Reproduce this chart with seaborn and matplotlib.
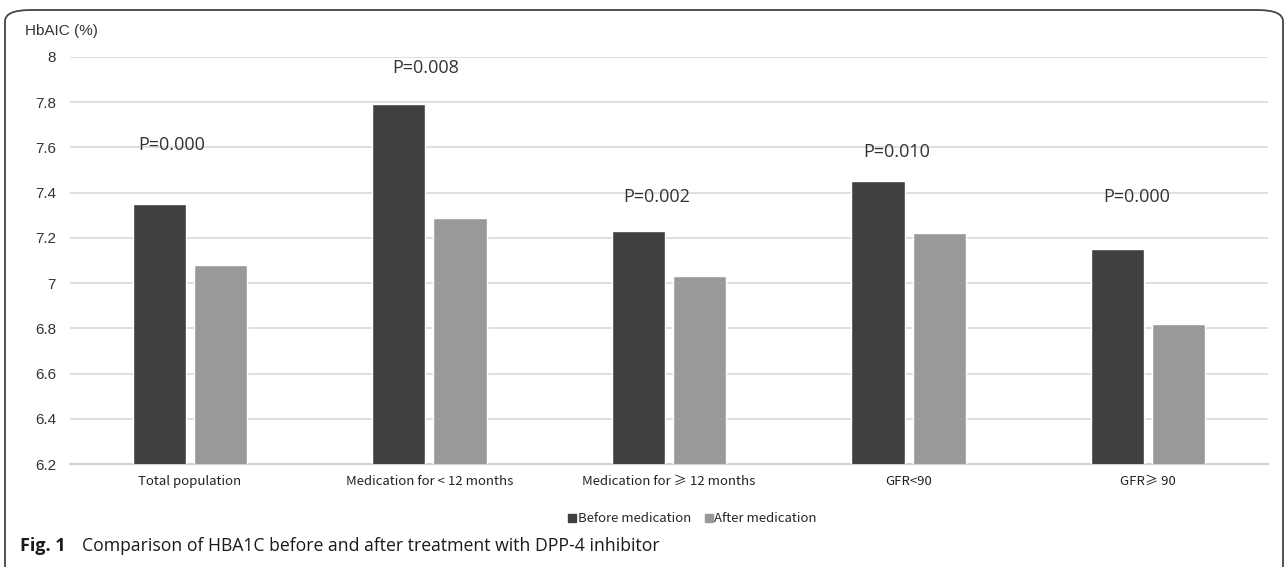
import seaborn as sns
import matplotlib.pyplot as plt
import pandas as pd
from matplotlib.patches import FancyBboxPatch
from matplotlib.lines import Line2D

# data
groups = ["Total population", "Medication for < 12 months", "Medication for ≥ 12 months",
          "GFR<90", "GFR≥ 90"]
before = [7.35, 7.79, 7.23, 7.45, 7.15]
after = [7.08, 7.29, 7.03, 7.22, 6.82]
p_values = ["P=0.000", "P=0.008", "P=0.002", "P=0.010", "P=0.000"]
p_label_y = [7.61, 7.95, 7.38, 7.58, 7.38]
p_label_dx = [-0.075, -0.017, -0.05, -0.05, -0.05]

df = pd.DataFrame({"group": groups * 2,
                   "value": before + after,
                   "period": ["Before medication"] * 5 + ["After medication"] * 5})

sns.set_style("white")
plt.rcParams["font.family"] = ["Noto Sans CJK SC", "DejaVu Sans"]

fig = plt.figure(figsize=(12.87, 5.67), dpi=100)
ax = fig.add_axes([70 / 1287, 1 - 464 / 567, (1268 - 70) / 1287, (464 - 57) / 567])

colors = {"Before medication": "#404040", "After medication": "#999999"}
sns.barplot(data=df, x="group", y="value", hue="period", palette=colors,
            width=0.51, gap=0.13, legend=False, ax=ax, zorder=3)

ax.set_ylim(6.2, 8)
ax.set_yticks([6.2, 6.4, 6.6, 6.8, 7, 7.2, 7.4, 7.6, 7.8, 8])
ax.set_yticklabels(["6.2", "6.4", "6.6", "6.8", "7", "7.2", "7.4", "7.6", "7.8", "8"],
                   family=["Liberation Sans", "DejaVu Sans"], fontsize=11, color="#333333")
ax.set_xlim(-0.5, 4.5)
ax.yaxis.grid(True, color="#d9d9d9", linewidth=1.2, zorder=0)
ax.set_axisbelow(True)
for s in ["top", "right", "left"]:
    ax.spines[s].set_visible(False)
ax.spines["bottom"].set_color("#d0d0d0")
ax.spines["bottom"].set_linewidth(1.5)
ax.tick_params(axis="both", length=0, pad=10)
ax.tick_params(axis="x", pad=8, labelsize=9.5, labelcolor="#222222")
ax.set_xlabel("")
ax.set_ylabel("")

for i, (txt, y) in enumerate(zip(p_values, p_label_y)):
    ax.text(i + p_label_dx[i], y, txt, ha="center", va="center", fontsize=13,
            color="#333333", family=["Open Sans", "DejaVu Sans"])

fig.text(25 / 1287, 1 - 31 / 567, "HbAIC (%)", fontsize=11, ha="left", va="center",
         color="#333333", family=["Liberation Sans", "DejaVu Sans"])

handles = [Line2D([], [], marker="s", linestyle="none", markersize=5.5,
                  color=colors[k], label=k) for k in colors]
fig.legend(handles=handles, loc="center", bbox_to_anchor=(692 / 1287, 1 - 519 / 567),
           ncol=2, frameon=False, fontsize=9.5, handletextpad=0.05,
           columnspacing=1.0, handlelength=0.7)

# caption
fig.text(20 / 1287, 1 - 546 / 567, "Fig. 1", fontsize=13, fontweight="bold",
         ha="left", va="center", family=["Open Sans", "DejaVu Sans"], color="#1a1a1a")
fig.text(82 / 1287, 1 - 546 / 567,
         "Comparison of HBA1C before and after treatment with DPP-4 inhibitor",
         fontsize=12.7, ha="left", va="center", family=["Open Sans", "DejaVu Sans"],
         color="#1a1a1a")

# rounded frame around the figure
frame = FancyBboxPatch((5 / 1287, -0.02), 1278 / 1287, 1 - 10 / 567 + 0.02,
                       boxstyle="round,pad=0,rounding_size=0.02",
                       transform=fig.transFigure, fill=False,
                       edgecolor="#444444", linewidth=1.3)
fig.patches.append(frame)

fig.savefig("out.png", dpi=100)
